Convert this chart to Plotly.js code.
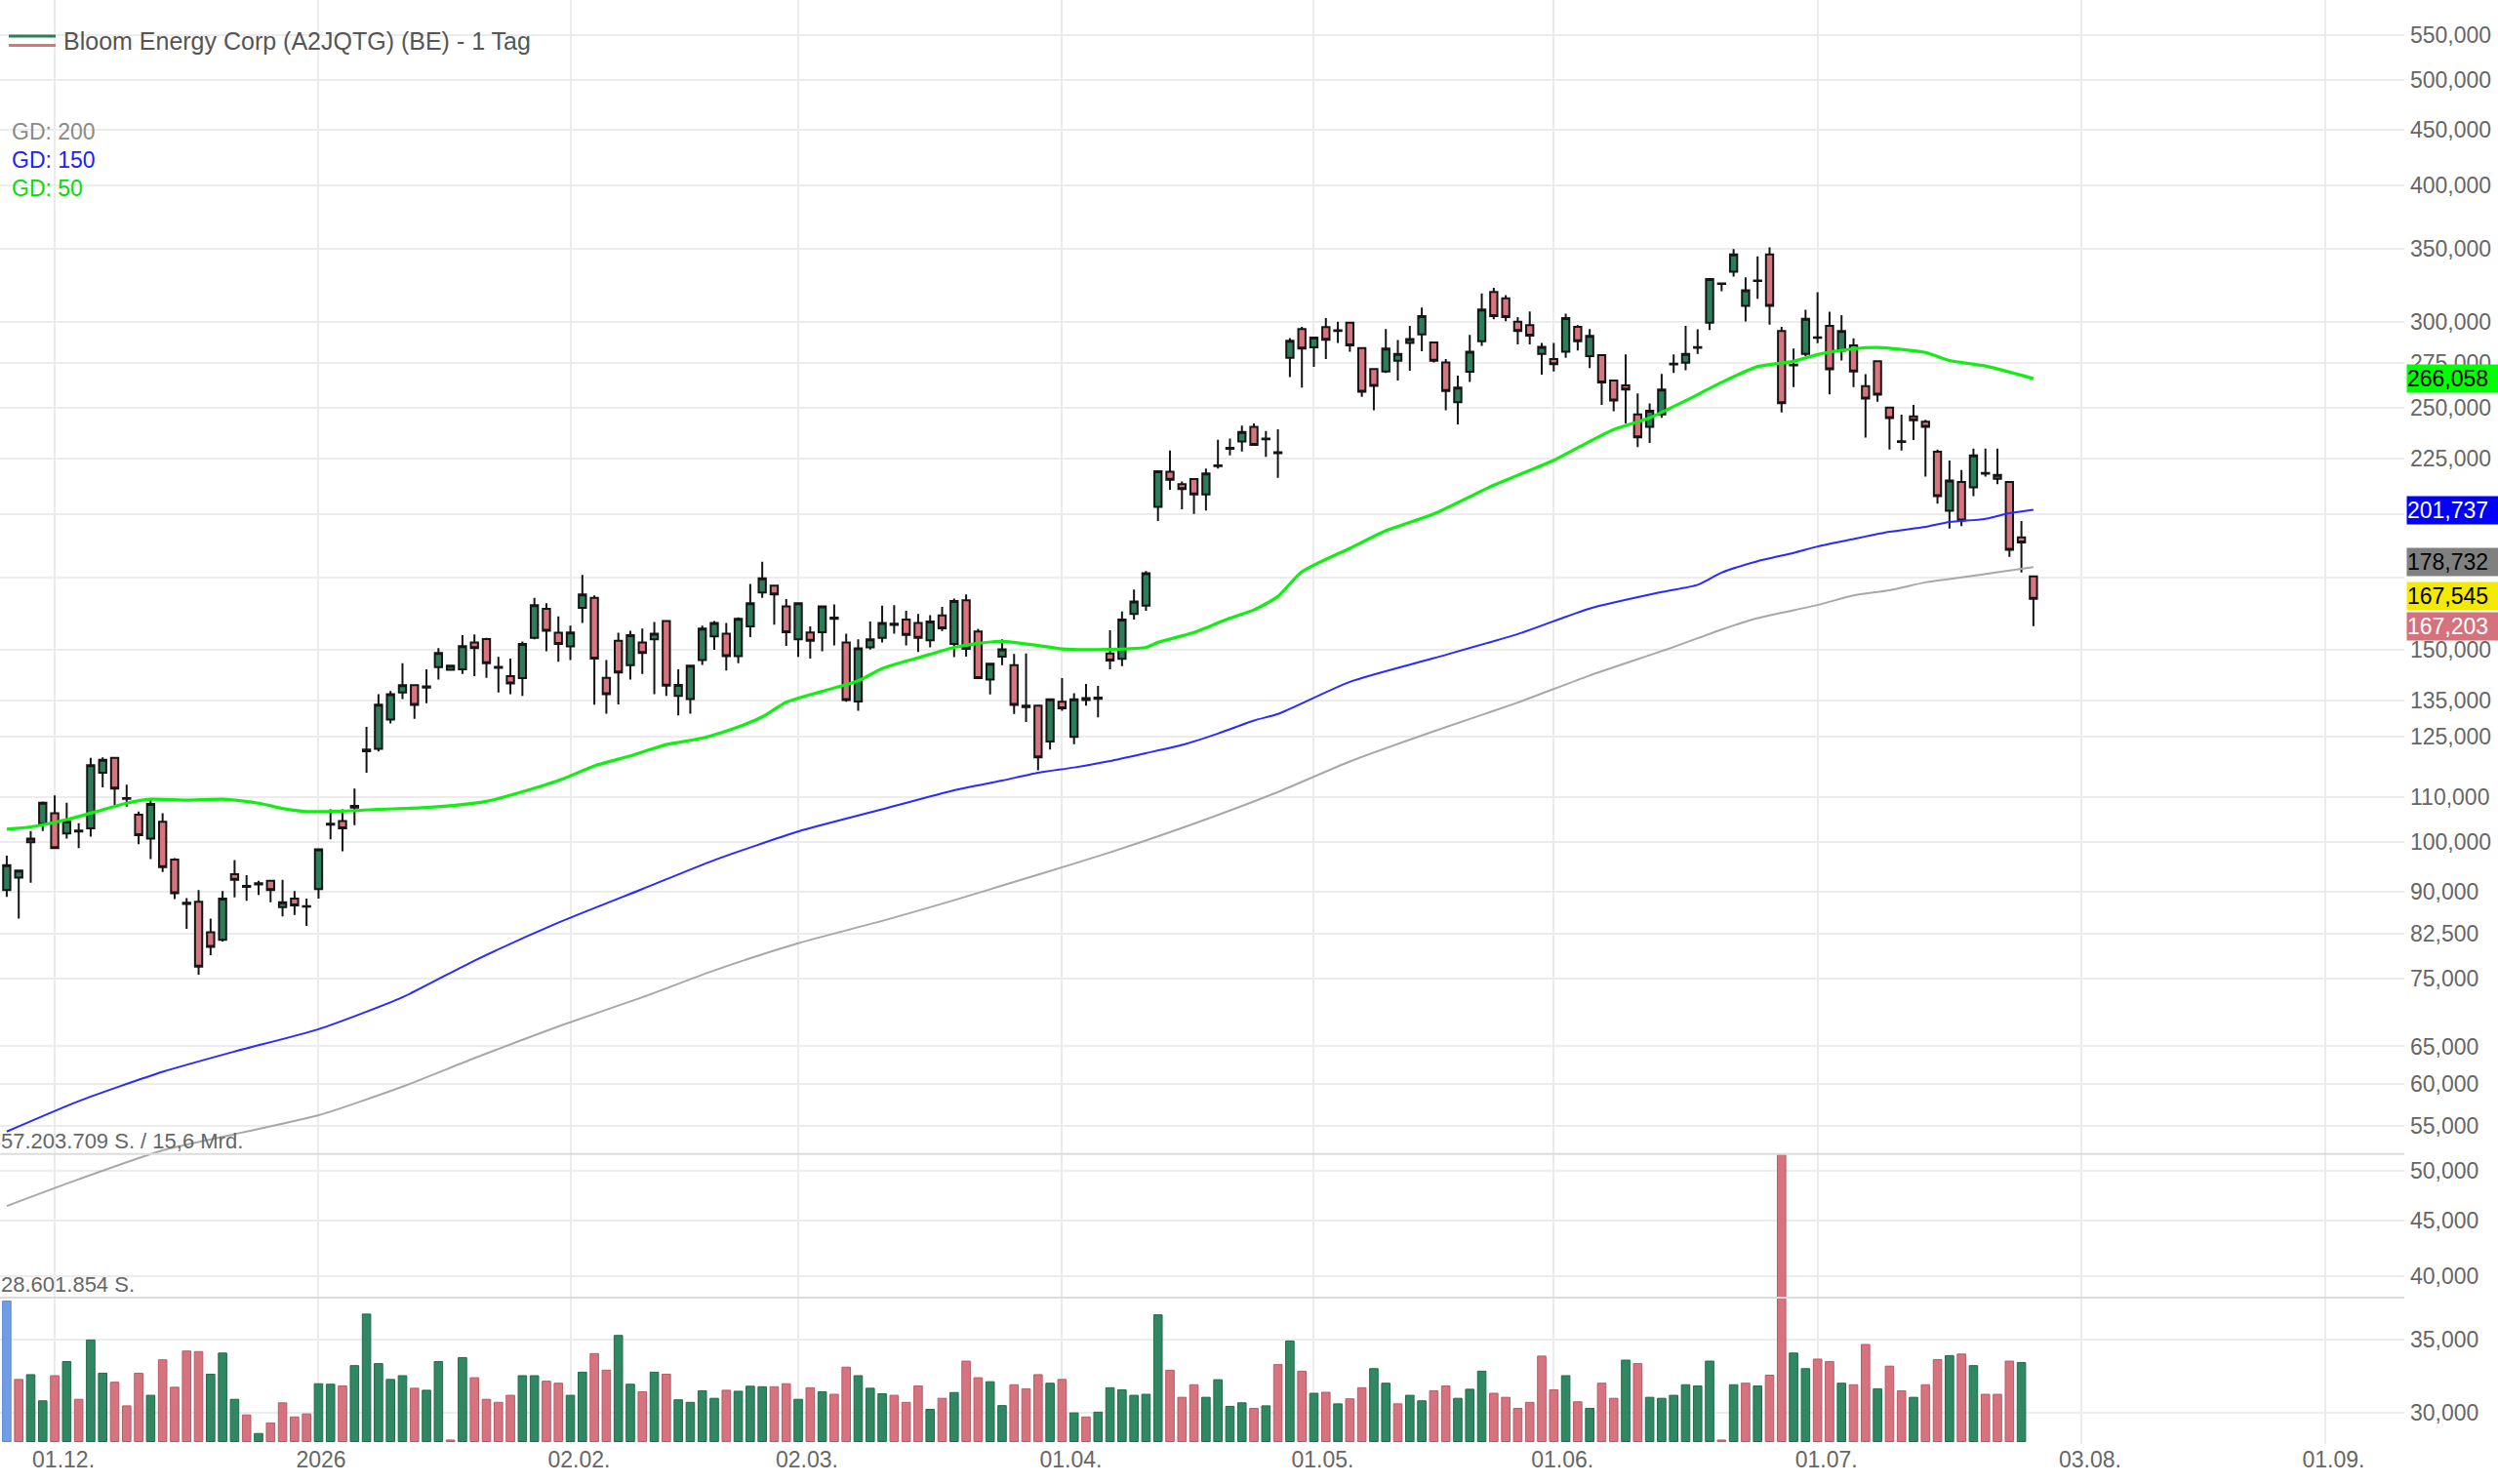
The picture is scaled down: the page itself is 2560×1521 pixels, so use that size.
<!DOCTYPE html>
<html><head><meta charset="utf-8">
<script src="https://cdn.plot.ly/plotly-3.0.1.min.js"></script>
<style>html,body{margin:0;padding:0;background:#fff;}#chart{width:2560px;height:1521px;}</style>
</head><body><div id="chart"></div>
<script>
// ---- data (prices in EUR, volumes in millions of shares) ----
const opens = [90.4, 92.8, 100.0, 104.0, 106.3, 101.9, 102.3, 103.0, 115.8, 119.5,
 109.8, 106.0, 100.8, 104.4, 96.4, 88.0, 88.2, 82.7, 81.4, 93.5,
 91.2, 91.5, 92.2, 87.2, 88.8, 87.4, 90.6, 103.8, 104.6, 107.6,
 121.2, 121.8, 129.6, 137.2, 139.3, 138.6, 144.7, 143.9, 144.1, 152.5,
 153.6, 144.5, 142.0, 141.4, 154.0, 163.7, 155.6, 151.2, 164.0, 167.5,
 141.5, 153.0, 145.3, 152.5, 153.5, 159.5, 136.2, 135.3, 146.9, 154.4,
 155.3, 148.1, 157.7, 169.4, 171.9, 164.5, 153.5, 155.7, 155.8, 160.3,
 152.5, 134.6, 150.9, 154.0, 158.2, 160.0, 158.9, 153.2, 161.4, 152.0,
 166.7, 156.0, 141.0, 148.0, 145.3, 133.4, 133.4, 123.7, 134.5, 124.9,
 135.6, 135.7, 149.0, 147.3, 161.9, 164.8, 203.0, 218.6, 213.0, 215.3,
 208.4, 221.2, 229.5, 233.0, 240.3, 234.5, 227.4, 278.1, 295.5, 284.3,
 296.7, 294.3, 299.4, 283.9, 271.5, 270.2, 276.3, 286.9, 292.2, 287.2,
 275.4, 253.2, 270.0, 287.9, 319.5, 315.2, 300.0, 297.9, 280.4, 277.3,
 281.6, 296.9, 279.0, 279.6, 265.1, 262.3, 246.7, 240.4, 246.7, 274.2,
 275.2, 284.0, 299.4, 325.3, 333.5, 310.3, 327.0, 345.9, 294.3, 273.7,
 280.3, 290.0, 297.4, 282.3, 285.4, 261.9, 276.1, 250.3, 233.2, 245.7,
 242.9, 228.1, 201.3, 213.9, 211.5, 218.1, 215.4, 213.9, 190.3, 175.3];
const highs = [97.2, 94.4, 102.4, 109.0, 110.4, 108.7, 104.1, 119.5, 119.6, 119.7,
 112.9, 106.7, 109.5, 106.3, 96.7, 88.9, 90.4, 85.1, 90.2, 96.3,
 93.3, 92.2, 92.4, 92.4, 90.2, 88.8, 98.7, 107.2, 107.2, 112.0,
 127.6, 136.7, 137.6, 145.9, 139.5, 144.1, 150.7, 145.4, 154.8, 155.1,
 154.0, 147.9, 147.4, 152.8, 167.5, 165.6, 161.1, 158.0, 175.8, 168.4,
 146.9, 155.6, 156.3, 157.0, 159.2, 159.6, 144.1, 145.4, 158.0, 159.5,
 158.9, 160.8, 172.5, 180.8, 172.2, 167.1, 165.8, 157.7, 164.7, 165.2,
 155.3, 153.5, 159.4, 164.8, 165.0, 163.0, 161.9, 161.5, 164.4, 167.3,
 168.7, 156.9, 146.0, 153.5, 148.8, 149.0, 133.6, 135.4, 141.4, 137.0,
 139.7, 139.1, 156.4, 162.8, 170.5, 177.3, 219.2, 228.6, 214.2, 215.5,
 220.1, 233.9, 234.5, 241.0, 242.1, 238.3, 239.1, 289.9, 296.9, 290.8,
 302.4, 300.0, 299.8, 284.3, 271.9, 295.5, 288.7, 297.5, 309.2, 287.8,
 277.3, 267.8, 291.8, 318.6, 322.4, 317.4, 303.0, 306.6, 286.9, 286.9,
 305.2, 297.9, 295.5, 280.0, 265.5, 280.0, 257.9, 252.5, 268.8, 280.0,
 297.4, 295.3, 329.0, 325.5, 349.9, 329.6, 344.4, 351.1, 296.8, 283.6,
 307.7, 319.4, 306.5, 304.2, 289.7, 268.6, 276.5, 250.6, 246.6, 251.7,
 244.0, 229.1, 223.9, 219.4, 229.6, 229.6, 229.6, 214.2, 197.0, 175.5];
const lows = [89.1, 85.1, 91.8, 102.4, 98.6, 100.8, 98.8, 101.2, 112.3, 108.2,
 107.8, 99.6, 96.5, 93.9, 88.7, 83.3, 75.6, 78.8, 81.1, 89.0,
 88.4, 89.5, 88.1, 85.5, 85.8, 83.8, 88.8, 100.6, 98.1, 103.7,
 115.8, 121.1, 128.5, 135.3, 129.8, 134.1, 141.0, 143.7, 142.7, 142.0,
 141.5, 137.2, 136.7, 136.2, 153.5, 149.7, 146.4, 146.9, 158.9, 133.7,
 131.2, 133.8, 141.0, 142.7, 136.7, 136.2, 130.7, 131.2, 145.4, 150.1,
 143.7, 145.9, 154.2, 167.5, 158.3, 151.4, 147.9, 147.4, 149.7, 151.5,
 134.5, 132.0, 150.2, 152.5, 155.3, 151.5, 149.4, 150.9, 156.2, 147.8,
 148.0, 141.2, 136.6, 145.3, 131.1, 128.9, 116.4, 121.6, 132.0, 123.0,
 133.4, 130.2, 144.1, 145.0, 160.0, 163.0, 197.0, 210.5, 202.0, 200.0,
 201.4, 220.1, 226.3, 228.2, 231.0, 225.6, 215.8, 266.9, 261.1, 272.8,
 277.3, 286.9, 281.6, 256.1, 248.9, 269.3, 265.1, 270.6, 282.0, 275.4,
 248.9, 241.6, 264.2, 285.1, 301.6, 300.4, 286.0, 286.0, 268.4, 270.2,
 278.1, 282.4, 272.1, 251.8, 248.4, 242.1, 230.3, 232.3, 245.0, 269.3,
 270.9, 280.3, 294.8, 320.0, 330.1, 300.2, 315.0, 298.2, 247.7, 261.4,
 279.0, 286.7, 257.4, 276.5, 261.4, 235.0, 253.4, 229.1, 228.6, 233.8,
 216.4, 204.4, 193.9, 194.9, 207.7, 216.4, 213.0, 182.7, 176.7, 157.8];
const closes = [95.3, 94.2, 100.8, 108.7, 98.8, 104.5, 102.5, 117.7, 119.0, 112.0,
 109.6, 101.5, 108.4, 94.9, 89.8, 87.8, 76.9, 80.2, 88.8, 92.4,
 91.0, 91.7, 90.4, 88.1, 87.5, 87.3, 98.5, 104.0, 103.0, 108.0,
 121.6, 133.7, 136.7, 139.3, 133.6, 139.0, 149.1, 145.2, 151.3, 150.7,
 145.9, 144.8, 139.8, 152.0, 165.0, 156.3, 152.0, 155.7, 168.7, 147.4,
 136.7, 143.1, 154.8, 149.1, 155.3, 139.2, 139.4, 145.2, 157.0, 158.9,
 148.1, 160.3, 165.6, 174.6, 168.7, 155.8, 165.6, 153.0, 164.5, 160.7,
 135.0, 150.6, 153.5, 158.9, 158.6, 154.9, 154.0, 159.4, 157.1, 166.4,
 150.4, 141.4, 145.8, 150.3, 133.6, 133.0, 119.6, 135.2, 132.7, 135.2,
 135.0, 135.4, 146.8, 160.0, 166.2, 176.5, 218.9, 214.9, 210.8, 208.4,
 217.8, 221.6, 229.9, 237.8, 231.4, 234.1, 227.8, 288.3, 283.5, 290.2,
 288.8, 294.7, 285.5, 258.8, 262.0, 283.5, 280.4, 289.3, 303.7, 276.3,
 259.2, 261.1, 281.6, 307.9, 303.7, 303.0, 294.2, 291.4, 284.5, 274.4,
 302.4, 287.9, 291.2, 264.0, 254.1, 260.0, 235.1, 248.7, 260.0, 274.6,
 280.3, 284.4, 328.3, 325.0, 345.9, 320.7, 327.4, 310.3, 252.6, 274.1,
 301.9, 290.3, 271.4, 294.3, 270.1, 255.2, 257.3, 244.9, 232.8, 243.7,
 240.4, 207.7, 214.6, 197.2, 226.3, 217.7, 217.2, 185.4, 188.3, 167.203];
const volumes = [27.95, 12.35, 13.3, 8.1, 13.1, 15.9, 8.4, 20.2, 13.6, 11.8,
 7.1, 13.6, 9.2, 16.25, 10.8, 18.0, 17.9, 13.4, 17.6, 8.4,
 5.3, 1.6, 3.7, 7.7, 4.9, 5.5, 11.5, 11.4, 11.05, 15.1,
 25.35, 15.5, 12.35, 13.1, 10.6, 10.2, 15.9, 0.3, 16.7, 12.7,
 8.4, 7.8, 9.2, 13.1, 13.1, 12.0, 11.6, 9.2, 13.8, 17.5,
 14.2, 21.1, 11.4, 9.9, 13.8, 13.4, 8.3, 7.8, 10.1, 8.6,
 10.2, 10.0, 11.0, 10.9, 10.9, 11.5, 8.4, 10.7, 9.9, 9.4,
 14.8, 13.1, 10.6, 9.5, 9.2, 7.8, 11.05, 6.4, 8.6, 9.75,
 16.0, 12.7, 11.9, 7.15, 11.3, 10.5, 13.3, 11.6, 12.35, 5.7,
 4.9, 5.85, 10.7, 10.3, 9.2, 9.4, 25.2, 14.2, 8.8, 11.3,
 8.8, 12.3, 7.0, 7.7, 6.6, 7.1, 15.3, 20.0, 14.0, 9.6,
 9.8, 7.5, 8.5, 10.7, 14.5, 11.6, 7.5, 9.2, 8.1, 10.1,
 11.05, 8.6, 10.4, 14.0, 9.6, 8.8, 6.6, 7.8, 17.0, 10.3,
 13.1, 7.9, 6.6, 11.6, 8.6, 16.2, 15.5, 8.8, 8.6, 9.2,
 11.3, 11.05, 16.0, 0.3, 11.3, 11.6, 11.05, 13.2, 57.203709, 17.6,
 14.5, 16.4, 15.9, 11.6, 11.3, 19.3, 10.5, 15.0, 10.1, 8.8,
 11.3, 16.3, 17.1, 17.4, 15.1, 9.4, 9.4, 16.0, 15.7, null];

// moving averages (GD = gleitender Durchschnitt), read at sample days
const gd50Idx = [0,2,5,8,10,12,15,18,21,23,25,28,31,35,40,46,49,52,55,58,61,63,65,68,71,73,76,79,81,83,86,88,91,95,96,99,102,104,106,108,112,115,119,124,126,129,131,134,137,140,143,146,149,151,154,156,160,162,165,168,169];
const gd50Val = [102.8,103.3,104.9,107.1,108.6,109.5,109.3,109.5,108.6,107.4,106.7,106.8,107.2,107.6,109.0,113.9,117.5,120.0,122.9,124.6,127.6,130.3,134.4,137.5,140.6,144.3,147.6,150.9,152.2,152.8,151.5,150.4,150.2,150.9,152.5,155.7,160.5,163.3,168,177,186,193,200,212.5,217,224,230,239,245,254,264,273,276,280,283.4,284.2,281.2,276.5,273.3,268,266.058];
const gd150Idx = [0,6,13,19,26,33,39,46,53,59,66,73,79,83,86,89,92,95,98,101,104,106,112,119,126,132,138,141,143,146,149,151,154,157,160,162,165,167,169];
const gd150Val = [54.3,57.9,61.6,64.3,67.4,72.1,77.9,84.4,90.6,96.3,102.3,107.2,111.6,113.9,115.8,117.1,118.7,120.7,122.8,125.8,129.3,131.1,140.3,147.5,155.2,163.8,169.6,172.2,176.7,181.0,184.2,186.7,189.7,192.6,194.6,196.6,197.9,200.3,201.737];
const gd200Idx = [0,6,13,19,26,33,39,46,53,59,66,73,79,86,92,99,106,112,119,126,132,139,143,146,151,154,157,160,163,166,169];
const gd200Val = [46.4,49.1,52.2,54.0,56.2,59.7,63.4,67.8,72.1,76.3,80.8,84.7,88.5,93.4,97.9,104.0,111.2,118.6,126.4,134.3,142.2,151.0,156.7,160.5,165.0,168.4,170.2,173.1,174.9,176.8,178.732];

const quoteValue = 167.545;
const tickIdx = [4, 26, 47, 66, 88, 109, 129, 151, 173, 193.3];
const tickText = ['01.12.', '2026', '02.02.', '02.03.', '01.04.', '01.05.', '01.06.', '01.07.', '03.08.', '01.09.'];
const priceTicks = [30,35,40,45,50,55,60,65,75,82.5,90,100,110,125,135,150,175,200,225,250,275,300,350,400,450,500,550];
// tick levels whose labels sit fully under the value boxes on the right (grid line kept, label not drawn)
const coveredTicks = [175, 200];

// ---- helpers ----
const de3 = v => v.toFixed(3).replace('.', ',');
const deInt = n => String(Math.round(n)).replace(/\B(?=(\d{3})+(?!\d))/g, '.');
const days = opens.map((_, i) => i);
const GREEN = '#2e7d5a', RED = '#d9737d';
const VGREEN = '#2f8862', VRED = '#d6737e';
const volColors = volumes.map((v, i) => i === 0 ? '#6f9de8' : (closes[i] >= closes[i - 1] ? VGREEN : VRED));
const volLine = volumes.map((v, i) => i === 0 ? '#5a88d8' : (closes[i] >= closes[i - 1] ? '#1f6b4a' : '#b85a66'));
const maxVol = Math.max(...volumes.filter(v => v != null));
const FONT = 'Liberation Sans, Arial, sans-serif';

const traces = [
  { type: 'bar', x: days, y: volumes, yaxis: 'y2', marker: { color: volColors, line: { color: volLine, width: 1 } }, hoverinfo: 'skip' },
  { type: 'scatter', mode: 'lines', x: gd200Idx, y: gd200Val, line: { color: '#a8a8a8', width: 2, shape: 'spline', smoothing: 0.6 }, hoverinfo: 'skip' },
  { type: 'scatter', mode: 'lines', x: gd150Idx, y: gd150Val, line: { color: '#2a2aff', width: 2, shape: 'spline', smoothing: 0.6 }, hoverinfo: 'skip' },
  { type: 'scatter', mode: 'lines', x: gd50Idx, y: gd50Val, line: { color: '#11ee11', width: 3.2, shape: 'spline', smoothing: 0.6 }, hoverinfo: 'skip' },
  { type: 'candlestick', x: days, open: opens, high: highs, low: lows, close: closes,
    increasing: { line: { color: '#151515', width: 2 }, fillcolor: GREEN },
    decreasing: { line: { color: '#151515', width: 2 }, fillcolor: RED },
    whiskerwidth: 0, hoverinfo: 'skip' }
];

const W = 2464, H = 1480; // plot area in px
const lastClose = closes[closes.length - 1];
const boxes = [
  { v: gd50Val[gd50Val.length - 1], bg: '#00ff00', fc: '#000', ys: 0 },
  { v: gd150Val[gd150Val.length - 1], bg: '#0000ff', fc: '#fff', ys: 0 },
  { v: gd200Val[gd200Val.length - 1], bg: '#808080', fc: '#000', ys: 5 },
  { v: quoteValue, bg: '#f4ea00', fc: '#000', ys: 2 },
  { v: lastClose, bg: '#d4737d', fc: '#fff', ys: -28 }
];

const annotations = [
  { text: 'GD: 200', xref: 'paper', yref: 'paper', x: 10 / W, y: 1 - 135 / H, xanchor: 'left', yanchor: 'middle', showarrow: false, font: { family: FONT, size: 23, color: '#8a8a8a' } },
  { text: 'GD: 150', xref: 'paper', yref: 'paper', x: 10 / W, y: 1 - 164 / H, xanchor: 'left', yanchor: 'middle', showarrow: false, font: { family: FONT, size: 23, color: '#2020ff' } },
  { text: 'GD: 50', xref: 'paper', yref: 'paper', x: 10 / W, y: 1 - 193 / H, xanchor: 'left', yanchor: 'middle', showarrow: false, font: { family: FONT, size: 23, color: '#00e000' } },
  { text: deInt(maxVol * 1e6) + ' S. / 15,6 Mrd.', xref: 'paper', yref: 'y2', x: 0, y: maxVol, xanchor: 'left', yanchor: 'bottom', showarrow: false, borderpad: 0, font: { family: FONT, size: 22, color: '#666' } },
  { text: deInt(Math.floor(maxVol * 1e6 / 2)) + ' S.', xref: 'paper', yref: 'y2', x: 0, y: maxVol / 2, xanchor: 'left', yanchor: 'bottom', showarrow: false, borderpad: 0, font: { family: FONT, size: 22, color: '#666' } }
].concat(boxes.map(b => ({
  text: de3(b.v), xref: 'paper', yref: 'y', x: 1, xshift: 2, y: Math.log10(b.v), yshift: b.ys,
  xanchor: 'left', yanchor: 'middle', showarrow: false, bgcolor: b.bg, borderpad: 0,
  width: 110, height: 28, align: 'left',
  font: { family: FONT, size: 23, color: b.fc }
})));

const shapes = [
  { type: 'line', xref: 'paper', yref: 'y2', x0: 0, x1: 1, y0: maxVol, y1: maxVol, line: { color: '#dcdcdc', width: 2 } },
  { type: 'line', xref: 'paper', yref: 'y2', x0: 0, x1: 1, y0: maxVol / 2, y1: maxVol / 2, line: { color: '#dcdcdc', width: 2 } },
  { type: 'line', xref: 'paper', yref: 'paper', x0: 9 / W, x1: 57 / W, y0: 1 - 37 / H, y1: 1 - 37 / H, line: { color: GREEN, width: 3 } },
  { type: 'line', xref: 'paper', yref: 'paper', x0: 9 / W, x1: 57 / W, y0: 1 - 46.5 / H, y1: 1 - 46.5 / H, line: { color: RED, width: 3 } }
];

const layout = {
  width: 2560, height: 1521,
  margin: { l: 0, r: 2560 - W, t: 0, b: 1521 - H, autoexpand: false },
  paper_bgcolor: '#fff', plot_bgcolor: '#fff',
  showlegend: false, hovermode: false,
  font: { family: FONT, color: '#666' },
  title: { text: 'Bloom Energy Corp (A2JQTG) (BE) - 1 Tag', xref: 'container', yref: 'container', x: 65 / 2560, xanchor: 'left', y: 1 - 42 / 1521, yanchor: 'middle', font: { family: FONT, size: 25, color: '#555' } },
  boxgap: 0.4, boxgroupgap: 0, bargap: 0.3,
  xaxis: { type: 'linear', range: [-0.562, 199.93], tickmode: 'array', tickvals: tickIdx, ticktext: tickText,
    showgrid: true, gridcolor: '#ececec', gridwidth: 2, zeroline: false, showline: false, ticks: '',
    ticklabelposition: 'outside right', ticklabelshift: -23,
    tickfont: { family: FONT, size: 23, color: '#666' }, rangeslider: { visible: false }, fixedrange: true },
  yaxis: { type: 'log', range: [1.44837, 2.77216], side: 'right', tickmode: 'array', tickvals: priceTicks,
    ticktext: priceTicks.map(v => coveredTicks.includes(v) ? '' : de3(v)),
    showgrid: true, gridcolor: '#ececec', gridwidth: 2, zeroline: false, showline: false, ticks: '', ticklabelstandoff: 5,
    tickfont: { family: FONT, size: 23, color: '#666' }, fixedrange: true },
  yaxis2: { overlaying: 'y', side: 'left', range: [-0.485, 286.68], visible: false, showgrid: false, zeroline: false, fixedrange: true },
  annotations: annotations,
  shapes: shapes
};

Plotly.newPlot('chart', traces, layout, { displayModeBar: false, staticPlot: true });
</script>
</body></html>
